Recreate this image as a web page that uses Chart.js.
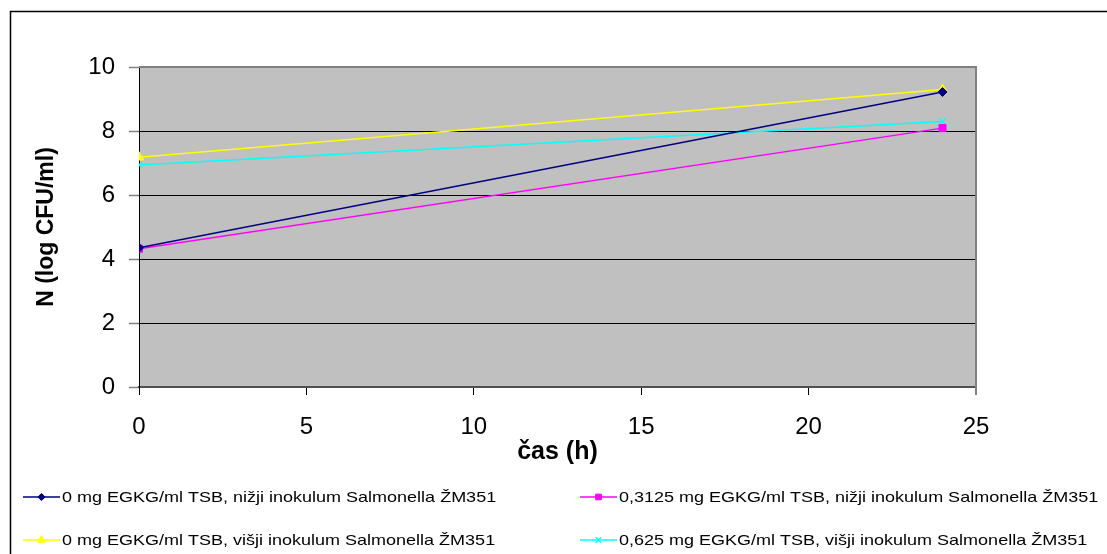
<!DOCTYPE html>
<html>
<head>
<meta charset="utf-8">
<script src="https://cdn.jsdelivr.net/npm/chart.js@4/dist/chart.umd.min.js"></script>
<style>
html,body{margin:0;padding:0;background:#fff;}
#wrap{position:relative;width:1107px;height:554px;}
</style>
</head>
<body>
<div id="wrap"><canvas id="c" width="1107" height="554"></canvas></div>
<script>
// ---- data ----
const times = [0, 24];
const labels = [
  "0 mg EGKG/ml TSB, nižji inokulum Salmonella ŽM351",
  "0,3125 mg EGKG/ml TSB, nižji inokulum Salmonella ŽM351",
  "0 mg EGKG/ml TSB, višji inokulum Salmonella ŽM351",
  "0,625 mg EGKG/ml TSB, višji inokulum Salmonella ŽM351"
];
const s0Lower = [4.35, 9.22];
const s03125Lower = [4.32, 8.09];
const s0Higher = [7.18, 9.30];
const s0625Higher = [6.94, 8.30];
const xTicks = [0, 5, 10, 15, 20, 25];
const yTicks = [0, 2, 4, 6, 8, 10];
const xTitle = "čas (h)";
const yTitle = "N (log CFU/ml)";

const FONT = "'Liberation Sans', Arial, sans-serif";

function pts(vals){ return times.map((t,i)=>({x:t, y:vals[i]})); }

const colors = ['#000080', '#FF00FF', '#FFFF00', '#00FFFF'];
const styles = ['rectRot', 'rect', 'triangle', 'crossRot'];
const radii = [4.5, 5, 5.5, 5];
const seriesVals = [s0Lower, s03125Lower, s0Higher, s0625Higher];

const datasets = seriesVals.map((v,i)=>({
  label: labels[i],
  data: pts(v),
  showLine: true,
  borderColor: colors[i],
  backgroundColor: colors[i],
  borderWidth: 1.5,
  pointStyle: styles[i],
  pointRadius: radii[i],
  pointBorderWidth: i===3 ? 1.3 : 1,
  pointBorderColor: colors[i],
  pointBackgroundColor: colors[i]
}));

const bgPlugin = {
  id: 'bg',
  beforeDraw(chart){
    const {ctx, chartArea:a} = chart;
    ctx.save();
    ctx.fillStyle = '#fff';
    ctx.fillRect(0,0,chart.width,chart.height);
    ctx.fillStyle = '#C0C0C0';
    ctx.fillRect(a.left, a.top, a.right-a.left, a.bottom-a.top);
    ctx.strokeStyle = '#000';
    ctx.lineWidth = 1.5;
    ctx.strokeRect(10.5, 11.5, 1300, 700);
    ctx.restore();
  },
  afterDraw(chart){
    const {ctx, chartArea:a} = chart;
    ctx.save();
    ctx.strokeStyle = '#808080';
    ctx.lineWidth = 2;
    ctx.beginPath();
    ctx.moveTo(a.left, a.top);
    ctx.lineTo(a.right, a.top);
    ctx.lineTo(a.right, a.bottom + 8);
    ctx.stroke();
    ctx.restore();
  }
};

const legendPlugin = {
  id: 'customLegend',
  afterDraw(chart){
    const ctx = chart.ctx;
    const slots = [{x:23,y:497},{x:580,y:497},{x:23,y:540},{x:580,y:540}];
    chart.data.datasets.forEach((ds,i)=>{
      const s = slots[i];
      ctx.save();
      ctx.strokeStyle = ds.borderColor;
      ctx.lineWidth = 1.5;
      ctx.beginPath();
      ctx.moveTo(s.x, s.y);
      ctx.lineTo(s.x+37, s.y);
      ctx.stroke();
      ctx.fillStyle = ds.backgroundColor;
      ctx.strokeStyle = ds.borderColor;
      ctx.lineWidth = ds.pointBorderWidth;
      Chart.helpers.drawPoint(ctx, {pointStyle: ds.pointStyle, radius: ds.pointRadius*0.8, borderWidth: ds.pointBorderWidth, rotation: 0}, s.x+18.5, s.y);
      ctx.translate(s.x+39, s.y);
      ctx.scale(1.2, 1);
      ctx.fillStyle = '#000';
      ctx.font = '15px ' + FONT;
      ctx.textBaseline = 'middle';
      ctx.textAlign = 'left';
      ctx.fillText(ds.label, 0, 1);
      ctx.restore();
    });
  }
};

new Chart(document.getElementById('c'), {
  type: 'scatter',
  data: { datasets },
  plugins: [bgPlugin, legendPlugin],
  options: {
    responsive: false,
    animation: false,
    devicePixelRatio: 1,
    layout: { padding: { left: 0, top: 67, right: 131, bottom: 87 } },
    plugins: { legend: { display: false }, tooltip: { enabled: false } },
    scales: {
      x: {
        type: 'linear',
        min: 0, max: 25,
        afterBuildTicks: s => { s.ticks = xTicks.map(v=>({value:v})); },
        afterFit: s => { s.height = 80; },
        ticks: { color: '#000', font: { family: FONT, size: 24 }, padding: 18, maxRotation: 0 },
        grid: { drawOnChartArea: false, drawTicks: true, tickLength: 8, tickColor: '#000', tickWidth: 1 },
        border: { display: true, color: '#505050', width: 2 },
        title: { display: true, text: xTitle, color: '#000', font: { family: FONT, size: 25, weight: 'bold' }, padding: { top: 2, bottom: 0 } }
      },
      y: {
        type: 'linear',
        min: 0, max: 10,
        afterBuildTicks: s => { s.ticks = yTicks.map(v=>({value:v})); },
        afterFit: s => { s.width = 139; },
        ticks: { color: '#000', font: { family: FONT, size: 24 }, padding: 14 },
        grid: { color: '#000', lineWidth: 1, tickLength: 10, tickColor: '#808080', tickWidth: 1.5 },
        border: { display: true, color: '#000', width: 1 },
        title: { display: true, text: yTitle, color: '#000', font: { family: FONT, size: 23, weight: 'bold' }, padding: { top: 33, bottom: 0 } }
      }
    }
  }
});
</script>
</body>
</html>
